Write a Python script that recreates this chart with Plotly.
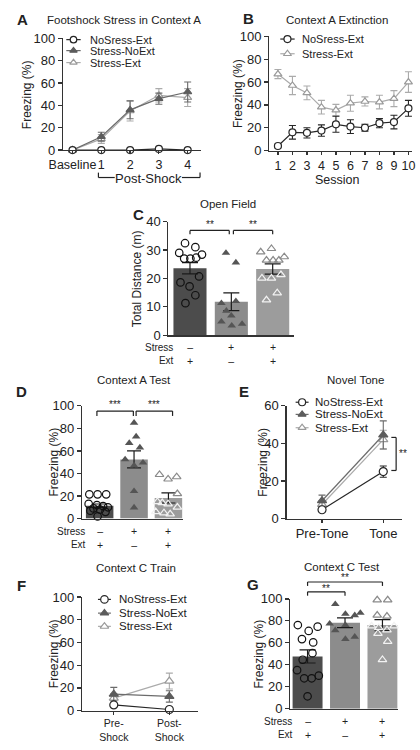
import plotly.graph_objects as go

W, H = 420, 750
FONT = "Liberation Sans, Arial, Helvetica, sans-serif"
INK = "#222222"

# ---------------- data ----------------
# Panel A: Footshock Stress in Context A
a_labels = ["Baseline", "1", "2", "3", "4"]
a_nostress = [0, 0, 0, 1, 0]
a_nostress_sem = [0, 0, 0, 0.5, 0]
a_noext = [0, 12, 36, 46, 52]
a_noext_sem = [0, 4, 8, 5, 9]
a_ext = [0, 10, 35, 49, 47]
a_ext_sem = [0, 4, 9, 6, 8]

# Panel B: Context A Extinction
b_sessions = [1, 2, 3, 4, 5, 6, 7, 8, 9, 10]
b_nostress = [4, 16, 15.5, 17.5, 23, 21, 20, 24, 25, 37]
b_nostress_sem = [1.5, 6, 4.5, 5, 7, 6, 3, 4, 6, 7]
b_ext = [67, 57, 50.5, 38, 35.5, 41.5, 43, 42.5, 45.5, 60]
b_ext_sem = [4, 8, 6, 6, 5, 7, 4, 6, 7, 9]

# Panel C: Open Field (total distance, m)
c_means = [23.6, 11.8, 23.3]
c_sem = [2.0, 3.1, 1.8]
c_pts_nostress = [32.4, 31.0, 29.0, 27.0, 27.0, 27.3, 28.4, 18.6, 20.7, 17.2, 14.1, 11.3]
c_jit_nostress = [-0.12, 0.13, -0.26, -0.14, 0.01, 0.15, 0.29, -0.23, 0.22, -0.01, 0.13, -0.11]
c_pts_noext = [29.0, 25.6, 11.3, 12.0, 8.6, 6.9, 4.8, 3.4, 4.0]
c_jit_noext = [-0.13, 0.11, -0.24, 0.11, -0.12, 0.0, -0.24, 0.01, 0.26]
c_pts_ext = [29.3, 30.5, 26.4, 26.4, 26.4, 27.6, 20.1, 20.1, 21.3, 14.9, 12.4]
c_jit_ext = [-0.29, -0.03, -0.15, 0.01, 0.15, 0.28, -0.26, -0.03, 0.2, 0.11, -0.15]
c_stress = ["–", "+", "+"]
c_ext = ["+", "–", "+"]

# Panel D: Context A Test
d_means = [11.3, 52.5, 18.3]
d_sem = [1.6, 7.5, 4.5]
d_pts_nostress = [21.5, 21.5, 21.5, 13, 12, 11, 10, 9, 8, 7, 6, 2]
d_jit_nostress = [-0.3, -0.06, 0.19, -0.32, -0.08, 0.1, 0.24, -0.18, 0.01, -0.27, 0.17, -0.06]
d_pts_noext = [85, 72.8, 67, 63, 52.5, 47, 49.6, 24.3, 9.8]
d_jit_noext = [0.0, 0.06, -0.14, 0.17, -0.26, 0.0, 0.26, 0.0, 0.0]
d_pts_ext = [39, 35, 37, 22, 15, 13, 14, 10, 5, 4, 6]
d_jit_ext = [-0.26, -0.01, 0.24, 0.26, -0.32, -0.01, -0.18, 0.26, -0.13, 0.05, -0.37]
d_stress = ["–", "+", "+"]
d_ext = ["+", "–", "+"]

# Panel E: Novel Tone
e_labels = ["Pre-Tone", "Tone"]
e_nostress = [4.7, 25]
e_nostress_sem = [1, 3]
e_noext = [9.5, 44.5]
e_noext_sem = [3, 7.5]
e_ext = [7.5, 42]
e_ext_sem = [2, 5]

# Panel F: Context C Train
f_labels = ["Pre-<br>Shock", "Post-<br>Shock"]
f_nostress = [5, 1]
f_nostress_sem = [1.5, 0.5]
f_noext = [14.5, 12.5]
f_noext_sem = [6, 5]
f_ext = [11, 26]
f_ext_sem = [4, 7]

# Panel G: Context C Test
g_means = [47.6, 78.3, 76.2]
g_sem = [6, 4.5, 5]
g_pts_nostress = [76.2, 70.8, 74.7, 63.4, 60.4, 50.6, 44.6, 35.1, 27.7, 27.7, 30.1, 11.3]
g_jit_nostress = [-0.26, 0.03, 0.27, -0.15, 0.15, 0.13, -0.13, -0.28, -0.09, 0.11, 0.3, 0.0]
g_pts_noext = [95.2, 86.3, 85.1, 87.2, 77.4, 76.2, 71.4, 63.4, 65.5]
g_jit_noext = [-0.26, 0.01, 0.26, 0.41, -0.41, 0.01, -0.26, 0.01, 0.26]
g_pts_ext = [99, 99, 85.1, 84.2, 75.3, 73.8, 75.3, 68.5, 71.7, 61.3, 44.6]
g_jit_ext = [-0.14, 0.14, -0.14, 0.12, -0.29, -0.1, 0.31, -0.12, 0.12, 0.14, 0.0]
g_stress = ["–", "+", "+"]
g_ext = ["+", "–", "+"]

# ---------------- layout geometry (pixels) ----------------
P = {
    'A': dict(s='', box=(51, 195, 32, 146), xr=[-0.333, 4.467], yr=[0, 100]),
    'B': dict(s='2', box=(266, 415, 30, 146.5), xr=[0.40, 10.26], yr=[0, 100]),
    'C': dict(s='3', box=(161, 292, 219, 335), xr=[-0.52, 2.52], yr=[0, 40]),
    'D': dict(s='4', box=(71, 176, 407, 522), xr=[-0.51, 2.42], yr=[0, 100]),
    'E': dict(s='5', box=(284, 404, 407, 522), xr=[-0.58, 1.30], yr=[0, 60]),
    'F': dict(s='6', box=(71, 192, 602, 718), xr=[-0.57, 1.52], yr=[0, 100]),
    'G': dict(s='7', box=(288, 400, 604, 716), xr=[-0.46, 2.41], yr=[0, 100]),
}


def PX(k, xv):
    x0, x1, _, _ = P[k]['box']
    r0, r1 = P[k]['xr']
    return x0 + (xv - r0) / (r1 - r0) * (x1 - x0)


def PY(k, yv):
    _, _, yt, yb = P[k]['box']
    r0, r1 = P[k]['yr']
    return yb - (yv - r0) / (r1 - r0) * (yb - yt)


STY = {
    'nostress': dict(line='#262626', symbol='circle', fill='white', edge='#262626'),
    'noext': dict(line='#6b6b6b', symbol='triangle-up', fill='#5c5c5c', edge='#5c5c5c'),
    'ext': dict(line='#ababab', symbol='triangle-up', fill='white', edge='#9a9a9a'),
}
BAR_COLORS = ['#4c4c4c', '#8c8c8c', '#9c9c9c']

fig = go.Figure()
layout = dict(width=W, height=H, margin=dict(l=0, r=0, t=0, b=0),
              paper_bgcolor='white', plot_bgcolor='rgba(0,0,0,0)', showlegend=False,
              font=dict(family=FONT, color=INK))
annotations = []
shapes = []

COMMON = dict(showline=True, linecolor='#333333', linewidth=1.2, showgrid=False,
              zeroline=False, fixedrange=True, tickcolor='#333333', tickwidth=1.2)


def make_axes(k, yticks, xtype='linear', xtickvals=None, xticks=True, xfont=13):
    p = P[k]
    x0, x1, yt, yb = p['box']
    xa = dict(domain=[x0 / W, x1 / W], range=p['xr'], anchor='y' + p['s'], type=xtype,
              tickangle=0, **COMMON)
    if xticks:
        xa.update(ticks='outside', ticklen=3, showticklabels=True,
                  tickfont=dict(family=FONT, size=xfont, color=INK))
        if xtickvals is not None:
            xa.update(tickvals=xtickvals)
    else:
        xa.update(ticks='', showticklabels=False)
    ya = dict(domain=[1 - yb / H, 1 - yt / H], range=p['yr'], anchor='x' + p['s'],
              tickvals=yticks, ticks='outside', ticklen=4,
              tickfont=dict(family=FONT, size=13, color=INK), **COMMON)
    layout['xaxis' + p['s']] = xa
    layout['yaxis' + p['s']] = ya


def series(k, x, y, err, st, size, cap=3.5):
    s = STY[st]
    sfx = P[k]['s']
    fig.add_trace(go.Scatter(
        x=x, y=y, mode='lines+markers', xaxis='x' + sfx, yaxis='y' + sfx,
        line=dict(color=s['line'], width=1.2),
        marker=dict(symbol=s['symbol'], size=size, color=s['fill'],
                    line=dict(color=s['edge'], width=1.2)),
        error_y=dict(type='data', array=err, visible=True, color=s['line'],
                     thickness=1.1, width=cap),
        cliponaxis=False, hoverinfo='skip'))


def bars(k, means, sem, pts, jits, cap):
    sfx = P[k]['s']
    xs = list(range(len(means)))
    fig.add_trace(go.Bar(x=xs, y=means, width=0.8, xaxis='x' + sfx, yaxis='y' + sfx,
                         marker=dict(color=BAR_COLORS, line=dict(width=0)),
                         error_y=dict(type='data', array=sem, visible=True, color='#1a1a1a',
                                      thickness=1.2, width=cap),
                         hoverinfo='skip'))
    # NoStress-Ext: open circles
    fig.add_trace(go.Scatter(x=[0 + j for j in jits[0]], y=pts[0], mode='markers',
                             xaxis='x' + sfx, yaxis='y' + sfx, cliponaxis=False, hoverinfo='skip',
                             marker=dict(symbol='circle-open', size=7.5, color='#111111',
                                         line=dict(width=1.2))))
    # Stress-NoExt: filled triangles
    fig.add_trace(go.Scatter(x=[1 + j for j in jits[1]], y=pts[1], mode='markers',
                             xaxis='x' + sfx, yaxis='y' + sfx, cliponaxis=False, hoverinfo='skip',
                             marker=dict(symbol='triangle-up', size=7.5, color='#555555',
                                         line=dict(width=0))))
    # Stress-Ext: open triangles (light outline inside the bar, gray above it)
    edge = ['#8a8a8a' if v > means[2] else '#f2f2f2' for v in pts[2]]
    fig.add_trace(go.Scatter(x=[2 + j for j in jits[2]], y=pts[2], mode='markers',
                             xaxis='x' + sfx, yaxis='y' + sfx, cliponaxis=False, hoverinfo='skip',
                             marker=dict(symbol='triangle-up-open', size=7.5, color=edge,
                                         line=dict(width=1.2))))


def ann(text, x, y, size, bold=False, xanchor='center', yanchor='middle', angle=0, align='center'):
    annotations.append(dict(
        text=('<b>%s</b>' % text) if bold else text,
        x=x / W, y=1 - y / H, xref='paper', yref='paper', align=align,
        showarrow=False, xanchor=xanchor, yanchor=yanchor, textangle=angle,
        font=dict(family=FONT, size=size, color=INK)))


def seg(x0, y0, x1, y1, color='#222222', w=1.2):
    shapes.append(dict(type='line', xref='paper', yref='paper',
                       x0=x0 / W, y0=1 - y0 / H, x1=x1 / W, y1=1 - y1 / H,
                       line=dict(color=color, width=w)))


def bracket(k, xa, xb, yv, drop=4):
    y = PY(k, yv)
    xa_, xb_ = PX(k, xa), PX(k, xb)
    seg(xa_, y + drop, xa_, y)
    seg(xa_, y, xb_, y)
    seg(xb_, y, xb_, y + drop)


# ---------------- Panel A ----------------
make_axes('A', [0, 20, 40, 60, 80, 100], xtype='category', xfont=12.5)
series('A', a_labels, a_ext, a_ext_sem, 'ext', 7)
series('A', a_labels, a_noext, a_noext_sem, 'noext', 7)
series('A', a_labels, a_nostress, a_nostress_sem, 'nostress', 7)

# ---------------- Panel B ----------------
make_axes('B', [0, 20, 40, 60, 80, 100], xtickvals=b_sessions, xfont=12.5)
series('B', b_sessions, b_ext, b_ext_sem, 'ext', 7)
series('B', b_sessions, b_nostress, b_nostress_sem, 'nostress', 7)

# ---------------- Panel C ----------------
make_axes('C', [0, 10, 20, 30, 40], xticks=False)
bars('C', c_means, c_sem, [c_pts_nostress, c_pts_noext, c_pts_ext],
     [c_jit_nostress, c_jit_noext, c_jit_ext], 8)

# ---------------- Panel D ----------------
make_axes('D', [0, 20, 40, 60, 80, 100], xticks=False)
bars('D', d_means, d_sem, [d_pts_nostress, d_pts_noext, d_pts_ext],
     [d_jit_nostress, d_jit_noext, d_jit_ext], 7)

# ---------------- Panel E ----------------
make_axes('E', [0, 20, 40, 60], xtype='category')
series('E', e_labels, e_ext, e_ext_sem, 'ext', 8)
series('E', e_labels, e_noext, e_noext_sem, 'noext', 8)
series('E', e_labels, e_nostress, e_nostress_sem, 'nostress', 8)

# ---------------- Panel F ----------------
make_axes('F', [0, 20, 40, 60, 80, 100], xtype='category', xfont=10.5)
series('F', f_labels, f_ext, f_ext_sem, 'ext', 8)
series('F', f_labels, f_noext, f_noext_sem, 'noext', 8)
series('F', f_labels, f_nostress, f_nostress_sem, 'nostress', 8)

# ---------------- Panel G ----------------
make_axes('G', [0, 20, 40, 60, 80, 100], xticks=False)
bars('G', g_means, g_sem, [g_pts_nostress, g_pts_noext, g_pts_ext],
     [g_jit_nostress, g_jit_noext, g_jit_ext], 8)

# ---------------- titles, letters, axis titles ----------------
ann("Footshock Stress in Context A", 115, 13, 11.5)
ann("Context A Extinction", 337, 13, 11.5)
ann("Open Field", 223, 201, 11.5)
ann("Context A Test", 125, 381, 11.5)
ann("Novel Tone", 356, 381, 11.5)
ann("Context C Train", 127, 572, 11.5)
ann("Context C Test", 342, 571, 11.5)

for letter, lx, ly in [("A", 9, 12.5), ("B", 244, 11.5), ("C", 130, 212), ("D", 7.5, 392.5),
                       ("E", 240, 392.5), ("F", 7.5, 590), ("G", 249, 589.5)]:
    ann(letter, lx, ly, 15, bold=True)

for k, tx, txt in [('A', 13.5, "Freezing (%)"), ('B', 234, "Freezing (%)"),
                   ('C', 129, "Total Distance (m)"), ('D', 42, "Freezing (%)"),
                   ('E', 260, "Freezing (%)"), ('F', 41, "Freezing (%)"),
                   ('G', 255, "Freezing (%)")]:
    _, _, yt, yb = P[k]['box']
    ann(txt, tx, (yt + yb) / 2, 12, angle=-90)

ann("Session", 337, 176.5, 12.5)

# Post-Shock bracket under panel A
yb_ = 174
ann("Post-Shock", 140, yb_ + 1.5, 13)
seg(PX('A', 0.9), yb_ - 5, PX('A', 0.9), yb_)
seg(PX('A', 0.9), yb_, 105, yb_)
seg(175, yb_, PX('A', 4.43), yb_)
seg(PX('A', 4.43), yb_, PX('A', 4.43), yb_ - 5)

# Stress / Ext rows under bar panels (two-line labels, one text per column)
for k, stress, ext, yc in [('C', c_stress, c_ext, 354),
                           ('D', d_stress, d_ext, 541.5),
                           ('G', g_stress, g_ext, 735.5)]:
    ann("Stress<br>Ext", PX(k, -0.33), yc, 10, xanchor='right', align='right')
    for i in range(3):
        ann("%s<br>%s" % (stress[i], ext[i]), PX(k, i), yc, 10.5)

# significance brackets
bracket('C', 0, 0.95, 36.9)
bracket('C', 1.05, 2.0, 36.9)
ann("**", (PX('C', 0) + PX('C', 0.95)) / 2, 222, 10)
ann("**", (PX('C', 1.05) + PX('C', 2.0)) / 2, 222, 10)

bracket('D', -0.08, 0.98, 95.4, drop=5)
bracket('D', 1.06, 2.12, 95.4, drop=5)
ann("***", (PX('D', -0.08) + PX('D', 0.98)) / 2, 406, 10)
ann("***", (PX('D', 1.06) + PX('D', 2.12)) / 2, 406, 10)

bracket('G', 0, 2, 115.4)
bracket('G', 0, 1, 106.5)
ann("**", (PX('G', 0) + PX('G', 2)) / 2, 582, 10)
ann("**", (PX('G', 0) + PX('G', 1)) / 2, 593, 10)

# E: vertical bracket at Tone
ex = PX('E', 1.21)
seg(ex - 5, PY('E', 43.2), ex, PY('E', 43.2))
seg(ex, PY('E', 43.2), ex, PY('E', 25.6))
seg(ex - 5, PY('E', 25.6), ex, PY('E', 25.6))
ann("**", ex + 7, 456, 10)

# ---------------- custom legends on a full-figure pixel overlay ----------------
layout['xaxis8'] = dict(domain=[0, 1], range=[0, W], anchor='y8', visible=False, fixedrange=True)
layout['yaxis8'] = dict(domain=[0, 1], range=[H, 0], anchor='x8', visible=False, fixedrange=True)

LEG = [
    dict(x0=54.5, x1=69.5, tx=77, ys=[33.3, 44.5, 56.7], size=6.5, fs=11,
         names=["NoSress-Ext", "Stress-NoExt", "Stress-Ext"], st=['nostress', 'noext', 'ext']),
    dict(x0=277.5, x1=292.5, tx=298.5, ys=[32.7, 47.7], size=7, fs=11,
         names=["NoSress-Ext", "Stress-Ext"], st=['nostress', 'ext']),
    dict(x0=293.5, x1=307, tx=311.5, ys=[403.3, 415.7, 429.3], size=7, fs=11.5,
         names=["NoStress-Ext", "Stress-NoExt", "Stress-Ext"], st=['nostress', 'noext', 'ext']),
    dict(x0=87.5, x1=101, tx=107.5, ys=[604.5, 618.5, 632], size=7.5, fs=11.5,
         names=["NoStress-Ext", "Stress-NoExt", "Stress-Ext"], st=['nostress', 'noext', 'ext']),
]
for lg in LEG:
    for name, yv, st in zip(lg['names'], lg['ys'], lg['st']):
        s = STY[st]
        fig.add_trace(go.Scatter(x=[lg['x0'], lg['x1']], y=[yv, yv], mode='lines',
                                 xaxis='x8', yaxis='y8', hoverinfo='skip',
                                 line=dict(color=s['line'], width=1.2)))
        fig.add_trace(go.Scatter(x=[(lg['x0'] + lg['x1']) / 2], y=[yv], mode='markers',
                                 xaxis='x8', yaxis='y8', hoverinfo='skip', cliponaxis=False,
                                 marker=dict(symbol=s['symbol'], size=lg['size'], color=s['fill'],
                                             line=dict(color=s['edge'], width=1.2))))
        ann(name, lg['tx'], yv, lg['fs'], xanchor='left')

layout['annotations'] = annotations
layout['shapes'] = shapes
fig.update_layout(**layout)
fig.write_html("out.html", config={'displayModeBar': False, 'staticPlot': True},
               post_script="document.body.style.margin='0';document.body.style.overflow='hidden';")
